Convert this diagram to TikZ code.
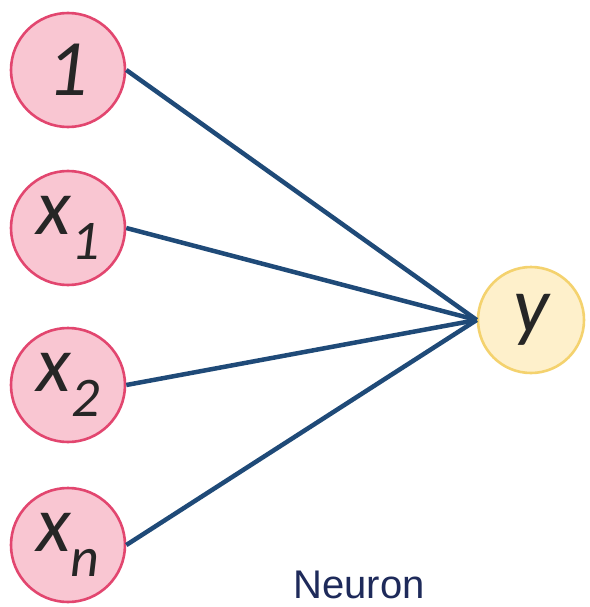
\documentclass[tikz,border=0pt]{standalone}
\usepackage{fontspec}
\setmainfont{Carlito}
\newfontfamily\labelfont{Liberation Sans}
\usetikzlibrary{positioning}

\definecolor{inpfill}{HTML}{F9C6D2}
\definecolor{inpdraw}{HTML}{E2466F}
\definecolor{outfill}{HTML}{FEF0CB}
\definecolor{outdraw}{HTML}{F4D26E}
\definecolor{linkcol}{HTML}{1F4A78}
\definecolor{textcol}{HTML}{1E2A5A}

\newcommand{\vsub}[2]{#1\raisebox{-0.32em}{\fontsize{56}{56}\selectfont #2}}

\tikzset{
  unit/.style={circle,minimum size=114pt,inner sep=0pt,line width=2.6pt,
    font=\fontsize{80}{80}\selectfont\itshape,text=black!85},
  inp/.style={unit,draw=inpdraw,fill=inpfill},
  outp/.style={unit,draw=outdraw,fill=outfill,minimum size=106pt},
  link/.style={draw=linkcol,line width=4.5pt}
}

\begin{document}
\begin{tikzpicture}[x=1pt,y=-1pt]
  \useasboundingbox (0,0) rectangle (589,607);
  % inputs
  \node[inp] (one) at (68,70) {1};
  \node[inp] (x1) at (68,228) {\vsub{x}{1}};
  \node[inp] (x2) at (68,385) {\vsub{x}{2}};
  \node[inp] (xn) at (68,545) {\vsub{x}{n}};
  % output
  \node[outp] (y) at (531,320) {y};
  \foreach \n in {one,x1,x2,xn}
    \draw[link] (\n.east) -- (y.west);
  \node[font=\labelfont\fontsize{40}{40}\selectfont,text=textcol,inner sep=0pt] (cap) at (359,585) {Neuron};
\end{tikzpicture}
\end{document}
